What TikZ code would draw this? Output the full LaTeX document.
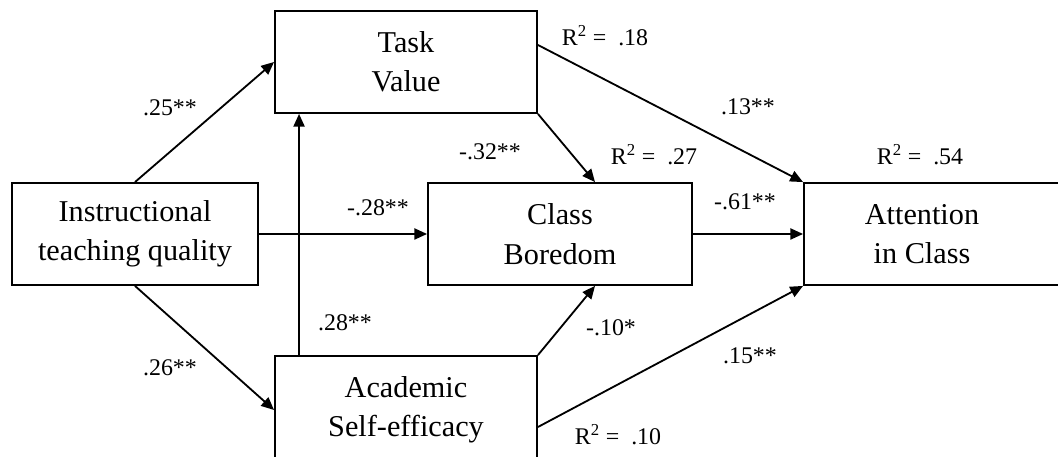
\documentclass[tikz,border=0pt]{standalone}
\usepackage{fontspec}
\setmainfont{Liberation Serif}
\usetikzlibrary{arrows.meta}

\begin{document}
\begin{tikzpicture}[
    x=0.025cm, y=-0.025cm,
    >={Triangle[length=0.32cm, width=0.28cm]},
    block/.style={draw, rectangle, minimum height=2.55cm, align=center, line width=1.3pt, font=\fontsize{21.5}{28}\selectfont},
    coef/.style={font=\fontsize{17}{20}\selectfont, inner sep=0pt},
    path/.style={->, line width=1.3pt}
]
    \clip (0,0) rectangle (1058,457);

    \node[block, minimum width=6.15cm] (itq) at (135,234) {Instructional\\teaching quality};
    \node[block, minimum width=6.55cm] (tv) at (406,62) {Task\\Value};
    \node[block, minimum width=6.6cm] (cb) at (560,234) {Class\\Boredom};
    \node[block, minimum width=6.55cm, minimum height=2.7cm] (ase) at (406,410) {Academic\\Self-efficacy};
    \node[block, minimum width=7cm] (att) at (944,234) {};
    \node[font=\fontsize{21.5}{28}\selectfont, align=center] (atttext) at (922,234) {Attention\\in Class};

    \draw[path] (itq.north) -- (tv.west);
    \draw[path] (itq.south) -- (ase.west);
    \draw[path] (itq.east) -- (cb.west);
    \draw[path] ([xshift=0.625cm]ase.north west) -- ([xshift=0.625cm]tv.south west);
    \draw[path] (tv.south east) -- ([xshift=0.875cm]cb.north);
    \draw[path] ([yshift=0.425cm]tv.east) -- (att.north west);
    \draw[path] (cb.east) -- (att.west);
    \draw[path] (ase.north east) -- ([xshift=0.875cm]cb.south);
    \draw[path] ([yshift=-0.425cm]ase.east) -- (att.south west);

    \node[coef] (c25) at (170,108) {.25**};
    \node[coef] (c26) at (170,368) {.26**};
    \node[coef] (cm28) at (378,208) {-.28**};
    \node[coef] (c28) at (345,323) {.28**};
    \node[coef] (cm32) at (490,152) {-.32**};
    \node[coef] (c13) at (748,107) {.13**};
    \node[coef] (cm61) at (745,202) {-.61**};
    \node[coef] (cm10) at (611,328) {-.10*};
    \node[coef] (c15) at (750,356) {.15**};

    \node[coef] (rtv) at (605,36) {R\textsuperscript{2} = \ .18};
    \node[coef] (rcb) at (654,155) {R\textsuperscript{2} = \ .27};
    \node[coef] (ratt) at (920,155) {R\textsuperscript{2} = \ .54};
    \node[coef] (rase) at (618,435) {R\textsuperscript{2} = \ .10};
\end{tikzpicture}
\end{document}
